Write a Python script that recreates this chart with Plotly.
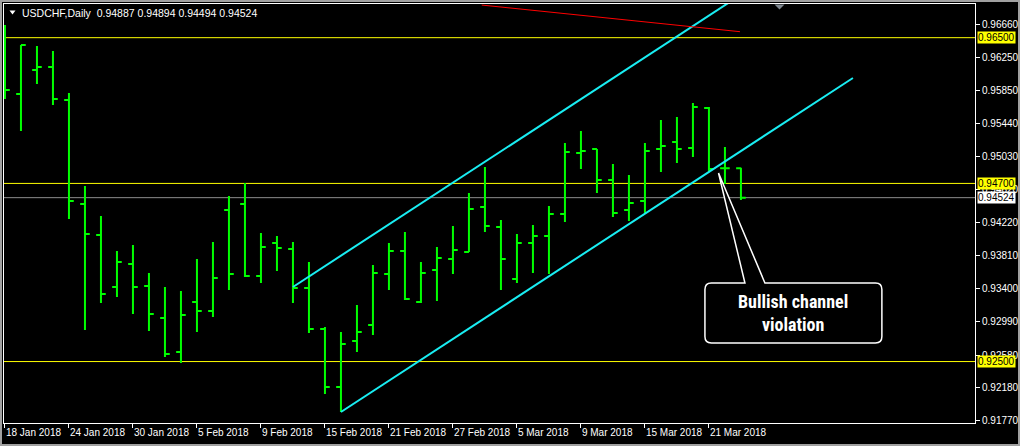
import plotly.graph_objects as go

# ---------------- data ----------------
dates = ["2018-01-18","2018-01-19","2018-01-22","2018-01-23","2018-01-24","2018-01-25","2018-01-26",
         "2018-01-29","2018-01-30","2018-01-31","2018-02-01","2018-02-02","2018-02-05","2018-02-06",
         "2018-02-07","2018-02-08","2018-02-09","2018-02-12","2018-02-13","2018-02-14","2018-02-15",
         "2018-02-16","2018-02-19","2018-02-20","2018-02-21","2018-02-22","2018-02-23","2018-02-26",
         "2018-02-27","2018-02-28","2018-03-01","2018-03-02","2018-03-05","2018-03-06","2018-03-07",
         "2018-03-08","2018-03-09","2018-03-12","2018-03-13","2018-03-14","2018-03-15","2018-03-16",
         "2018-03-19","2018-03-20","2018-03-21","2018-03-22","2018-03-23"]

opens = [0.96000,0.95804,0.96101,0.96138,0.95730,0.94446,0.94063,0.93421,0.93705,0.93433,
         0.93038,0.92618,0.93236,0.93125,0.94372,0.94446,0.93557,0.93964,0.93890,0.93409,
         0.92902,0.92186,0.92754,0.92952,0.93581,0.93865,0.93236,0.93631,0.93767,0.93853,
         0.94409,0.94162,0.93520,0.93964,0.94051,0.94322,0.95076,0.95125,0.94742,0.94372,
         0.94483,0.95125,0.95211,0.95137,0.95631,0.94887,0.94887]
highs = [0.96656,0.96409,0.96397,0.96335,0.95817,0.94668,0.94298,0.93865,0.93940,0.93594,
         0.93421,0.93371,0.93767,0.93977,0.94545,0.94705,0.94088,0.94051,0.93977,0.93730,
         0.92927,0.92865,0.93199,0.93693,0.93964,0.94100,0.93730,0.93915,0.94174,0.94582,
         0.94903,0.94248,0.94075,0.94187,0.94421,0.95199,0.95347,0.95125,0.94940,0.94804,
         0.95199,0.95483,0.95520,0.95693,0.95644,0.95150,0.94894]
lows = [0.95743,0.95347,0.95928,0.95668,0.94261,0.92890,0.93223,0.93297,0.93087,0.92878,
        0.92556,0.92482,0.92865,0.93050,0.93384,0.93544,0.93470,0.93618,0.93223,0.92853,
        0.92100,0.91877,0.92618,0.92828,0.93384,0.93260,0.93223,0.93248,0.93581,0.93853,
        0.94100,0.93384,0.93470,0.93594,0.93581,0.94224,0.94878,0.94582,0.94285,0.94236,
        0.94335,0.94841,0.94952,0.95026,0.94853,0.94693,0.94494]
closes = [0.95854,0.96409,0.96138,0.95743,0.94483,0.94075,0.93334,0.93730,0.93421,0.93087,
          0.92593,0.93075,0.93125,0.93532,0.93581,0.93557,0.93915,0.93903,0.93409,0.92902,
          0.92186,0.92717,0.92865,0.93594,0.93865,0.93273,0.93594,0.93779,0.93878,0.94384,
          0.94174,0.93767,0.93964,0.94051,0.94322,0.95088,0.95100,0.94742,0.94335,0.94458,
          0.95100,0.95162,0.95125,0.95644,0.94878,0.94887,0.94524]

x_tick_dates = ["2018-01-18","2018-01-24","2018-01-30","2018-02-05","2018-02-09","2018-02-15",
                "2018-02-21","2018-02-27","2018-03-05","2018-03-09","2018-03-15","2018-03-21"]
x_tick_labels = ["18 Jan 2018","24 Jan 2018","30 Jan 2018","5 Feb 2018","9 Feb 2018","15 Feb 2018",
                 "21 Feb 2018","27 Feb 2018","5 Mar 2018","9 Mar 2018","15 Mar 2018","21 Mar 2018"]

y_tick_values = [0.96660,0.96250,0.95850,0.95440,0.95030,0.94620,0.94220,
                 0.93810,0.93400,0.92990,0.92580,0.92180,0.91770]

level_lines = [0.96500, 0.94700, 0.92500]
current_price = closes[-1]

# channel anchors (bar index, price)
upper_channel_x = [18, 53]
upper_channel_y = [0.93421, 0.97933]
lower_channel_x = [21, 53]
lower_channel_y = [0.91877, 0.96002]
red_line_x = [29.8, 45.94]
red_line_y = [0.96903, 0.96574]

# callout geometry (bar index / price)
callout_tip = (44.6, 0.94829)
callout_base = (46.25, 47.5)
callout_box = (43.75, 54.81, 0.92729, 0.93470)  # x0, x1, y_bottom, y_top

# ---------------- figure ----------------
idx = list(range(len(dates)))
X_RANGE = [-0.06, 60.63]
Y_RANGE = [0.91741, 0.96916]
GREEN = "#00FF00"
CYAN = "#19EDF2"
FONT = "Liberation Sans, Arial"

fig = go.Figure()

fig.add_trace(go.Ohlc(
    x=idx, open=opens, high=highs, low=lows, close=closes,
    increasing=dict(line=dict(color=GREEN, width=2)),
    decreasing=dict(line=dict(color=GREEN, width=2)),
    tickwidth=0.3, hoverinfo="skip", showlegend=False))

fig.add_trace(go.Scatter(x=upper_channel_x, y=upper_channel_y, mode="lines",
                         line=dict(color=CYAN, width=2), hoverinfo="skip", showlegend=False))
fig.add_trace(go.Scatter(x=lower_channel_x, y=lower_channel_y, mode="lines",
                         line=dict(color=CYAN, width=2), hoverinfo="skip", showlegend=False))
fig.add_trace(go.Scatter(x=red_line_x, y=red_line_y, mode="lines",
                         line=dict(color="#FF0000", width=1), hoverinfo="skip", showlegend=False))

shapes = []
for lv in level_lines:
    shapes.append(dict(type="line", xref="paper", yref="y", x0=0, x1=1, y0=lv, y1=lv,
                       line=dict(color="#FFFF00", width=1), layer="below"))
shapes.append(dict(type="line", xref="paper", yref="y", x0=0, x1=1, y0=current_price, y1=current_price,
                   line=dict(color="#8C8C8C", width=1), layer="below"))

# speech bubble
bx0, bx1, by0, by1 = callout_box
rx, ry = 0.4, 0.0008
tx, ty = callout_tip
bl, br = callout_base
path = (f"M{bl},{by1} L{tx},{ty} L{br},{by1} L{bx1-rx},{by1} Q{bx1},{by1} {bx1},{by1-ry} "
        f"L{bx1},{by0+ry} Q{bx1},{by0} {bx1-rx},{by0} L{bx0+rx},{by0} Q{bx0},{by0} {bx0},{by0+ry} "
        f"L{bx0},{by1-ry} Q{bx0},{by1} {bx0+rx},{by1} Z")
shapes.append(dict(type="path", xref="x", yref="y", path=path, fillcolor="#000000",
                   line=dict(color="#FFFFFF", width=1.5), layer="above"))

# helpers for paper coords from pixel coords (plot area: x 4..975, y 4..423)
def px(v):
    return (v - 4) / 971.0
def py(v):
    return (423 - v) / 419.0

# small white triangle before title
shapes.append(dict(type="path", xref="paper", yref="paper",
                   path=f"M{px(9.5)},{py(10.5)} L{px(15.5)},{py(10.5)} L{px(12.5)},{py(14.5)} Z",
                   fillcolor="#FFFFFF", line=dict(width=0), layer="above"))
# gray chart-shift marker at top
shapes.append(dict(type="path", xref="paper", yref="paper",
                   path=f"M{px(774.5)},{py(4.5)} L{px(784.5)},{py(4.5)} L{px(779.5)},{py(9.5)} Z",
                   fillcolor="#7F8790", line=dict(width=0), layer="above"))
# outer window border
shapes.append(dict(type="rect", xref="paper", yref="paper",
                   x0=px(1), x1=px(1019), y0=py(445), y1=py(1),
                   line=dict(color="#A0A0A0", width=2), layer="above"))

annotations = [
    dict(xref="paper", yref="paper", x=px(20), y=py(12.5), xanchor="left", yanchor="middle",
         text="USDCHF,Daily  " + " ".join(f"{v:.5f}" for v in [opens[-1], highs[-1], lows[-1], closes[-1]]),
         showarrow=False, font=dict(family=FONT, size=10.5, color="#FFFFFF")),
    dict(xref="x", yref="y", x=(bx0 + bx1) / 2, y=(by0 + by1) / 2, xanchor="center", yanchor="middle",
         text="<b>Bullish channel<br>violation</b>", showarrow=False,
         font=dict(family="Liberation Sans Narrow, Roboto Condensed, Liberation Sans", size=18, color="#FFFFFF")),
]
for lv in level_lines:
    annotations.append(dict(xref="paper", yref="y", x=px(977), y=lv, xanchor="left", yanchor="middle",
                            text=f"{lv:.5f}", showarrow=False, bgcolor="#FFFF00", borderpad=0,
                            font=dict(family=FONT, size=10, color="#000000")))
annotations.append(dict(xref="paper", yref="y", x=px(977), y=current_price, xanchor="left", yanchor="middle",
                        text=f"{current_price:.5f}", showarrow=False, bgcolor="#FFFFFF", borderpad=0,
                        font=dict(family=FONT, size=10, color="#000000")))

fig.update_layout(
    width=1020, height=446,
    margin=dict(l=4, r=45, t=4, b=23, pad=0, autoexpand=False),
    paper_bgcolor="#000000", plot_bgcolor="#000000",
    showlegend=False,
    shapes=shapes, annotations=annotations,
    xaxis=dict(range=X_RANGE, showgrid=False, zeroline=False, showline=True, mirror=True,
               linecolor="#FFFFFF", linewidth=1, ticks="outside", ticklen=4, tickcolor="#FFFFFF",
               tickvals=[dates.index(d) for d in x_tick_dates], ticktext=x_tick_labels,
               ticklabelposition="outside right", tickangle=0, automargin=False,
               tickfont=dict(family=FONT, size=10, color="#FFFFFF"),
               rangeslider=dict(visible=False), fixedrange=True),
    yaxis=dict(range=Y_RANGE, side="right", showgrid=False, zeroline=False, showline=True, mirror=True,
               linecolor="#FFFFFF", linewidth=1, ticks="outside", ticklen=4, tickcolor="#FFFFFF",
               tickvals=y_tick_values, ticktext=[f"{v:.5f}" for v in y_tick_values], automargin=False,
               tickfont=dict(family=FONT, size=10, color="#FFFFFF"),
               fixedrange=True),
)

fig.write_html("out.html", config={"displayModeBar": False},
               post_script="document.body.style.margin='0';document.body.style.padding='0';"
                           "document.body.style.background='#000';")
